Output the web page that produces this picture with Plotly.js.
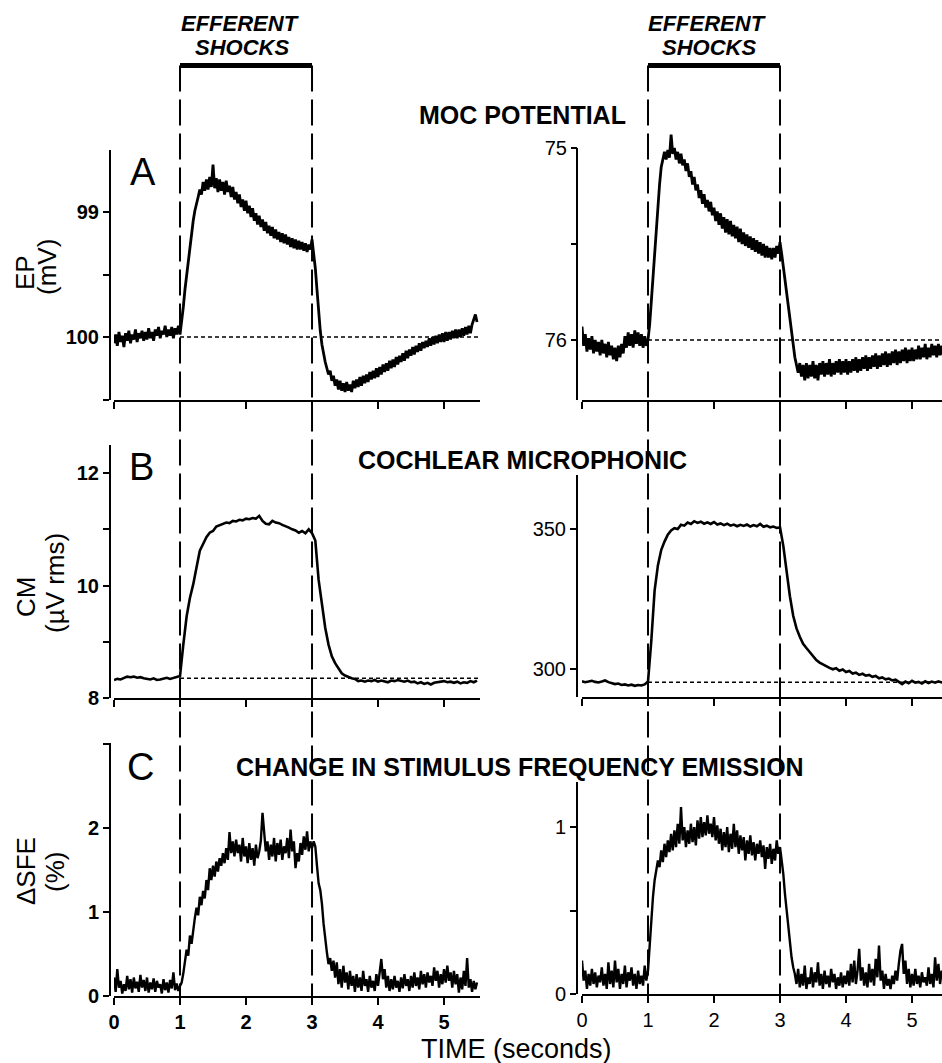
<!DOCTYPE html>
<html>
<head>
<meta charset="utf-8">
<script src="https://cdn.plot.ly/plotly-3.0.1.min.js"></script>
<style>html,body{margin:0;padding:0;background:#fff;}#chart{width:942px;height:1063px;}</style>
</head>
<body>
<div id="chart"></div>
<script>
// ---- sampling of the traces (seconds) ----
const T0 = 0;
const DT_FINE = 0.025;   // EP and SFE records
const DT_CM = 0.05;      // CM records

// ---- stimulus window (seconds) ----
const shockStart = 1;
const shockEnd = 3;

// ---- A: endocochlear potential (mV), one value every 0.025 s ----
const epLeft = [
  100.05, 99.98, 100.07, 99.96, 100.04, 99.99, 100.08, 99.97, 100.03, 99.95,
  100.05, 99.98, 100.02, 99.94, 100.04, 99.97, 100.01, 99.95, 100.03, 99.96,
  100.02, 99.93, 100.01, 99.96, 100.03, 99.94, 99.99, 99.92, 100.01, 99.95,
  99.98, 99.91, 100.00, 99.94, 99.99, 99.92, 100.01, 99.93, 99.98, 99.91,
  99.98, 99.88, 99.76, 99.62, 99.50, 99.38, 99.27, 99.17, 99.07, 98.99,
  98.92, 98.88, 98.82, 98.86, 98.76, 98.83, 98.74, 98.82, 98.72, 98.80,
  98.62, 98.81, 98.73, 98.84, 98.74, 98.83, 98.76, 98.86, 98.75, 98.84,
  98.79, 98.88, 98.80, 98.90, 98.84, 98.93, 98.86, 98.96, 98.90, 98.99,
  98.91, 99.01, 98.95, 99.04, 98.97, 99.07, 99.01, 99.10, 99.03, 99.12,
  99.06, 99.15, 99.08, 99.17, 99.11, 99.19, 99.12, 99.21, 99.14, 99.22,
  99.16, 99.24, 99.17, 99.25, 99.18, 99.26, 99.20, 99.28, 99.21, 99.29,
  99.22, 99.30, 99.23, 99.30, 99.24, 99.31, 99.25, 99.32, 99.26, 99.30,
  99.22, 99.32, 99.45, 99.62, 99.80, 99.95, 100.06, 100.14, 100.20, 100.25,
  100.30, 100.27, 100.35, 100.31, 100.39, 100.34, 100.42, 100.35, 100.43, 100.37,
  100.44, 100.36, 100.43, 100.38, 100.44, 100.35, 100.41, 100.34, 100.40, 100.32,
  100.39, 100.31, 100.37, 100.30, 100.36, 100.28, 100.34, 100.27, 100.33, 100.25,
  100.32, 100.24, 100.30, 100.22, 100.28, 100.21, 100.27, 100.19, 100.25, 100.18,
  100.24, 100.16, 100.22, 100.15, 100.20, 100.13, 100.19, 100.11, 100.17, 100.10,
  100.15, 100.08, 100.14, 100.07, 100.12, 100.05, 100.11, 100.04, 100.09, 100.03,
  100.08, 100.01, 100.07, 100.00, 100.06, 99.99, 100.05, 99.98, 100.04, 99.97,
  100.04, 99.96, 100.03, 99.96, 100.02, 99.95, 100.01, 99.94, 100.01, 99.94,
  100.00, 99.93, 99.99, 99.92, 99.98, 99.91, 99.97, 99.90, 99.86, 99.82, 99.88
];
const epRight = [
  75.93, 76.03, 75.97, 76.06, 75.99, 76.05, 75.98, 76.07, 76.00, 76.06,
  76.01, 76.08, 76.00, 76.07, 76.02, 76.09, 76.01, 76.08, 76.03, 76.10,
  76.04, 76.11, 76.03, 76.09, 76.02, 76.07, 75.98, 76.04, 75.96, 76.03,
  75.97, 76.04, 75.95, 76.02, 75.96, 76.03, 75.97, 76.04, 75.98, 76.03,
  76.00, 75.92, 75.80, 75.67, 75.55, 75.42, 75.30, 75.19, 75.10, 75.05,
  75.02, 75.06, 75.01, 75.05, 74.93, 75.03, 75.00, 75.06, 75.02, 75.08,
  75.03, 75.09, 75.06, 75.12, 75.08, 75.15, 75.12, 75.19, 75.15, 75.22,
  75.19, 75.26, 75.22, 75.29, 75.24, 75.31, 75.27, 75.33, 75.28, 75.35,
  75.31, 75.38, 75.33, 75.40, 75.34, 75.42, 75.36, 75.44, 75.37, 75.45,
  75.38, 75.46, 75.40, 75.47, 75.41, 75.49, 75.42, 75.50, 75.44, 75.51,
  75.45, 75.52, 75.46, 75.53, 75.47, 75.54, 75.48, 75.55, 75.49, 75.56,
  75.50, 75.57, 75.51, 75.57, 75.52, 75.58, 75.52, 75.57, 75.51, 75.55,
  75.49, 75.55, 75.62, 75.69, 75.76, 75.83, 75.90, 75.97, 76.03, 76.09,
  76.13, 76.17, 76.12, 76.19, 76.13, 76.21, 76.12, 76.20, 76.13, 76.19,
  76.11, 76.20, 76.13, 76.21, 76.12, 76.18, 76.11, 76.19, 76.12, 76.18,
  76.10, 76.19, 76.12, 76.18, 76.11, 76.17, 76.10, 76.18, 76.11, 76.17,
  76.10, 76.18, 76.11, 76.17, 76.10, 76.16, 76.09, 76.17, 76.10, 76.16,
  76.09, 76.15, 76.08, 76.16, 76.09, 76.15, 76.08, 76.14, 76.07, 76.15,
  76.08, 76.14, 76.07, 76.13, 76.06, 76.14, 76.07, 76.13, 76.06, 76.12,
  76.05, 76.13, 76.06, 76.12, 76.05, 76.11, 76.04, 76.12, 76.05, 76.11,
  76.04, 76.11, 76.05, 76.10, 76.03, 76.10, 76.04, 76.09, 76.02, 76.10,
  76.04, 76.09, 76.02, 76.08, 76.03, 76.09, 76.02, 76.08, 76.03, 76.08, 76.04
];

// ---- B: cochlear microphonic (µV rms), one value every 0.05 s ----
const cmLeft = [
  8.32, 8.34, 8.33, 8.36, 8.38, 8.37, 8.38, 8.36, 8.37, 8.35,
  8.34, 8.33, 8.35, 8.32, 8.33, 8.34, 8.36, 8.34, 8.36, 8.37,
  8.39, 8.95, 9.45, 9.78, 10.02, 10.32, 10.62, 10.74, 10.86, 10.94,
  10.97, 11.05, 11.07, 11.10, 11.12, 11.11, 11.15, 11.14, 11.17, 11.16,
  11.19, 11.18, 11.20, 11.19, 11.24, 11.15, 11.10, 11.09, 11.15, 11.12,
  11.11, 11.08, 11.06, 11.03, 11.00, 10.98, 10.94, 10.97, 10.93, 11.00,
  10.93, 10.80, 10.10, 9.65, 9.25, 8.95, 8.74, 8.62, 8.52, 8.44,
  8.40, 8.37, 8.35, 8.34, 8.30, 8.31, 8.29, 8.31, 8.30, 8.32,
  8.29, 8.31, 8.30, 8.28, 8.31, 8.30, 8.32, 8.30, 8.29, 8.31,
  8.28, 8.29, 8.26, 8.28, 8.25, 8.27, 8.24, 8.27, 8.28, 8.29,
  8.30, 8.28, 8.29, 8.27, 8.29, 8.26, 8.28, 8.27, 8.30, 8.28, 8.31
];
const cmRight = [
  295.6, 295.3, 295.5, 295.8, 295.4, 295.2, 295.5, 295.9, 295.3, 294.9,
  294.6, 294.8, 294.3, 294.5, 294.1, 294.4, 294.0, 294.3, 294.1, 294.5,
  295.5, 310.0, 328.0, 337.0, 342.5, 345.5, 348.0, 349.5, 350.3, 350.0,
  351.5, 351.2, 352.3, 351.8, 352.8, 352.2, 352.6, 351.9, 352.4, 351.8,
  352.5, 351.6, 352.0, 351.4, 351.9, 351.2, 351.6, 351.0, 351.5, 351.1,
  351.6, 350.9, 351.4, 351.0, 351.8, 350.8, 351.2, 350.6, 350.9, 350.4,
  350.6, 344.0, 334.0, 326.0, 319.0, 314.5, 311.5, 309.0, 307.5, 306.0,
  304.5, 303.2, 302.3, 301.6, 300.8, 300.4, 299.9, 300.3, 299.4, 299.8,
  298.9, 299.3, 298.4, 298.7, 297.9, 298.3, 297.6, 297.9, 297.2, 297.5,
  296.7, 297.0, 296.3, 296.6, 295.9, 296.2, 295.4, 294.6, 295.5, 294.9,
  295.8, 295.1, 295.4, 294.8, 295.6, 295.0, 295.5, 295.1, 295.6, 295.2, 295.5
];

// ---- C: change in stimulus frequency emission (%), one value every 0.025 s ----
const sfeLeft = [
  0.22, 0.05, 0.32, 0.10, 0.18, 0.03, 0.14, 0.06, 0.24, 0.08,
  0.20, 0.04, 0.22, 0.09, 0.17, 0.05, 0.25, 0.10, 0.19, 0.06,
  0.22, 0.04, 0.16, 0.08, 0.21, 0.05, 0.18, 0.10, 0.14, 0.03,
  0.20, 0.07, 0.16, 0.04, 0.19, 0.09, 0.28, 0.07, 0.15, 0.06,
  0.12, 0.16, 0.27, 0.42, 0.55, 0.48, 0.72, 0.62, 0.80, 0.93,
  1.05, 0.96, 1.18, 1.08, 1.25, 1.16, 1.38, 1.26, 1.52, 1.38,
  1.55, 1.42, 1.60, 1.48, 1.64, 1.55, 1.70, 1.58, 1.76, 1.62,
  1.95, 1.70, 1.84, 1.66, 1.86, 1.70, 1.80, 1.60, 1.88, 1.66,
  1.78, 1.58, 1.82, 1.62, 1.76, 1.55, 1.80, 1.64, 1.72, 1.85,
  2.18, 1.90, 1.72, 1.84, 1.62, 1.80, 1.66, 1.88, 1.60, 1.82,
  1.68, 1.86, 1.62, 1.78, 1.70, 1.88, 1.64, 1.98, 1.72, 1.84,
  1.52, 1.70, 1.60, 1.82, 1.68, 1.90, 1.74, 1.96, 1.72, 1.84,
  1.76, 1.84, 1.78, 1.55, 1.34, 1.26, 1.10, 0.86, 0.66, 0.52,
  0.38, 0.45, 0.30, 0.42, 0.22, 0.40, 0.14, 0.32, 0.10, 0.36,
  0.16, 0.28, 0.08, 0.30, 0.12, 0.24, 0.05, 0.26, 0.10, 0.22,
  0.06, 0.30, 0.12, 0.20, 0.05, 0.24, 0.10, 0.18, 0.06, 0.26,
  0.12, 0.30, 0.44, 0.20, 0.32, 0.10, 0.24, 0.06, 0.20, 0.08,
  0.24, 0.10, 0.18, 0.05, 0.22, 0.09, 0.26, 0.12, 0.20, 0.06,
  0.24, 0.10, 0.28, 0.12, 0.22, 0.08, 0.30, 0.14, 0.26, 0.10,
  0.28, 0.16, 0.24, 0.12, 0.34, 0.18, 0.30, 0.10, 0.26, 0.14,
  0.32, 0.16, 0.36, 0.18, 0.28, 0.10, 0.30, 0.14, 0.26, 0.04,
  0.22, 0.08, 0.30, 0.12, 0.45, 0.10, 0.20, 0.05, 0.18, 0.08, 0.16
];
const sfeRight = [
  0.20, 0.08, 0.14, 0.03, 0.12, 0.05, 0.15, 0.06, 0.13, 0.04,
  0.11, 0.07, 0.16, 0.05, 0.12, 0.03, 0.19, 0.06, 0.14, 0.04,
  0.20, 0.07, 0.15, 0.03, 0.12, 0.06, 0.17, 0.04, 0.13, 0.08,
  0.16, 0.05, 0.12, 0.03, 0.14, 0.06, 0.11, 0.05, 0.17, 0.08,
  0.14, 0.30, 0.45, 0.58, 0.68, 0.74, 0.80, 0.76, 0.86, 0.79,
  0.90, 0.82, 0.92, 0.85, 0.96, 0.86, 0.98, 0.88, 1.02, 0.90,
  1.12, 0.92, 1.00, 0.88, 0.98, 0.90, 1.02, 0.91, 1.00, 0.89,
  1.04, 0.93, 1.06, 0.94, 1.03, 0.95, 1.07, 0.96, 1.02, 0.94,
  1.06, 0.92, 1.01, 0.90, 0.99, 0.86, 0.97, 0.88, 1.00, 0.85,
  0.96, 0.87, 1.02, 0.88, 0.98, 0.84, 0.95, 0.86, 0.94, 0.80,
  0.92, 0.84, 0.95, 0.83, 0.91, 0.80, 0.90, 0.84, 0.92, 0.82,
  0.89, 0.75, 0.88, 0.81, 0.90, 0.78, 0.87, 0.80, 0.92, 0.84,
  0.88, 0.80, 0.72, 0.60, 0.50, 0.38, 0.30, 0.22, 0.16, 0.12,
  0.06, 0.15, 0.04, 0.12, 0.05, 0.17, 0.03, 0.10, 0.06, 0.16,
  0.04, 0.13, 0.07, 0.19, 0.05, 0.12, 0.03, 0.14, 0.06, 0.11,
  0.04, 0.15, 0.07, 0.12, 0.03, 0.10, 0.05, 0.13, 0.04, 0.11,
  0.06, 0.14, 0.05, 0.18, 0.07, 0.20, 0.06, 0.14, 0.27, 0.08,
  0.16, 0.05, 0.13, 0.04, 0.18, 0.07, 0.15, 0.05, 0.21, 0.10,
  0.29, 0.08, 0.14, 0.03, 0.12, 0.05, 0.09, 0.03, 0.11, 0.06,
  0.14, 0.08, 0.18, 0.26, 0.30, 0.12, 0.20, 0.06, 0.15, 0.04,
  0.12, 0.05, 0.15, 0.06, 0.11, 0.04, 0.13, 0.07, 0.10, 0.05,
  0.16, 0.06, 0.12, 0.04, 0.22, 0.08, 0.18, 0.06, 0.14, 0.09, 0.12
];

// ---- pre-stimulus reference levels (dotted lines) ----
const baseX = [1, 5.6];
const baseEpLeft = 100;
const baseEpRight = 76;
const baseCmLeft = 8.35;
const baseCmRight = 295.25;

// ---- tick labels ----
const xTickVals = [0, 1, 2, 3, 4, 5];
const xTickText = ['0', '1', '2', '3', '4', '5'];
const epLeftTicks = [98.5, 99, 99.5, 100, 100.5];
const epLeftText = ['', '99', '', '100', ''];
const epRightTicks = [75, 75.5, 76];
const epRightText = ['75', '', '76'];
const cmLeftTicks = [8, 9, 10, 11, 12];
const cmLeftText = ['8', '', '10', '', '12'];
const cmRightTicks = [300, 350];
const cmRightText = ['300', '350'];
const sfeLeftTicks = [0, 1, 2, 3];
const sfeLeftText = ['0', '1', '2', ''];
const sfeRightTicks = [0, 0.5, 1];
const sfeRightText = ['0', '', '1'];

// ================= drawing =================
const W = 942, H = 1063;
const px = v => v / W;
const py = v => 1 - v / H;
const FONT = 'Liberation Sans, Arial, Helvetica, sans-serif';

function trace(y, dt, xa, ya, w) {
  return {type: 'scatter', mode: 'lines', x0: T0, dx: dt, y: y, xaxis: xa, yaxis: ya,
          line: {color: '#000', width: w}, hoverinfo: 'skip', showlegend: false};
}
function baseline(v, xa, ya) {
  return {type: 'scatter', mode: 'lines', x: baseX, y: [v, v], xaxis: xa, yaxis: ya,
          line: {color: '#000', width: 1.5, dash: '4px,3px'}, hoverinfo: 'skip', showlegend: false};
}

const data = [
  baseline(baseEpLeft, 'x', 'y'),
  baseline(baseEpRight, 'x2', 'y2'),
  baseline(baseCmLeft, 'x3', 'y3'),
  baseline(baseCmRight, 'x4', 'y4'),
  trace(epLeft, DT_FINE, 'x', 'y', 2.8),
  trace(epRight, DT_FINE, 'x2', 'y2', 2.8),
  trace(cmLeft, DT_CM, 'x3', 'y3', 2.6),
  trace(cmRight, DT_CM, 'x4', 'y4', 2.6),
  trace(sfeLeft, DT_FINE, 'x5', 'y5', 2.4),
  trace(sfeRight, DT_FINE, 'x6', 'y6', 2.4)
];

function xAxis(left, anchor, showLabels, bold) {
  return {
    domain: left ? [px(114), px(480)] : [px(582), 1],
    range: left ? [0, 5.545] : [0, 5.4545],
    anchor: anchor, showline: true, linewidth: 2, linecolor: '#000',
    ticks: 'outside', ticklen: 7, tickwidth: 2, tickcolor: '#000',
    tickvals: xTickVals, ticktext: xTickText, showticklabels: showLabels,
    tickfont: {family: FONT, size: 20, color: '#000', weight: bold ? 'bold' : 'normal'},
    showgrid: false, zeroline: false, fixedrange: true
  };
}
function yAxis(left, dom, range, vals, text, bold, showline) {
  return {
    domain: [py(dom[0]), py(dom[1])], range: range, autorange: false,
    anchor: 'free', position: left ? px(110) : px(577),
    showline: showline !== false, linewidth: 2, linecolor: '#000',
    ticks: 'outside', ticklen: 6, tickwidth: 2, tickcolor: '#000',
    tickvals: vals, ticktext: text,
    tickfont: {family: FONT, size: 20, color: '#000', weight: bold ? 'bold' : 'normal'},
    showgrid: false, zeroline: false, fixedrange: true
  };
}

function ann(text, x, y, size, extra) {
  return Object.assign({text: text, x: px(x), y: py(y), xref: 'paper', yref: 'paper',
    xanchor: 'center', yanchor: 'middle', showarrow: false, borderpad: 0,
    font: {family: FONT, size: size, color: '#000'}}, extra || {});
}

const annotations = [
  ann('<b><i>EFFERENT</i></b>', 240, 23, 22),
  ann('<b><i>SHOCKS</i></b>', 242, 47.5, 22),
  ann('<b><i>EFFERENT</i></b>', 707, 23, 22),
  ann('<b><i>SHOCKS</i></b>', 709, 47.5, 22),
  ann('<b>MOC POTENTIAL</b>', 522, 115, 25),
  ann('<b>COCHLEAR MICROPHONIC</b>', 522, 460, 25),
  ann('<b>CHANGE IN STIMULUS FREQUENCY EMISSION</b>', 520, 767, 25),
  ann('A', 143, 172, 38),
  ann('B', 141, 467, 38),
  ann('C', 140, 767, 38),
  ann('EP', 25, 273, 26, {textangle: -90}),
  ann('(mV)', 47, 267, 26, {textangle: -90}),
  ann('CM', 26, 597, 26, {textangle: -90}),
  ann('(\u00B5V rms)', 55, 583, 26, {textangle: -90}),
  ann('\u0394SFE', 26, 871, 26, {textangle: -90}),
  ann('(%)', 55, 872, 26, {textangle: -90}),
  ann('TIME (seconds)', 516, 1049, 27)
];

const shapes = [];
const topY = py(65.5);
const botL = py(996);
const botR = py(994);
[['x', botL], ['x2', botR]].forEach(([xr, bot]) => {
  shapes.push({type: 'line', xref: xr, yref: 'paper', x0: shockStart, x1: shockEnd, y0: topY, y1: topY,
               line: {color: '#000', width: 5}});
  [shockStart, shockEnd].forEach(t => {
    shapes.push({type: 'line', xref: xr, yref: 'paper', x0: t, x1: t, y0: topY, y1: bot,
                 line: {color: '#000', width: 2, dash: '26px,8px'}});
  });
});
// axis line of the upper-right panel (its plotting area reaches a little above 75 mV)
const epRightTop = 75;
const epRightBottom = 76.3125;
shapes.push({type: 'line', xref: 'paper', yref: 'y2', x0: px(577), x1: px(577),
             y0: epRightTop, y1: epRightBottom, line: {color: '#000', width: 2}});

const layout = {
  width: W, height: H, margin: {l: 0, r: 0, t: 0, b: 0},
  paper_bgcolor: '#fff', plot_bgcolor: 'rgba(0,0,0,0)',
  showlegend: false,
  xaxis: xAxis(true, 'y', false, true),
  xaxis2: xAxis(false, 'y2', false, false),
  xaxis3: xAxis(true, 'y3', false, true),
  xaxis4: xAxis(false, 'y4', false, false),
  xaxis5: xAxis(true, 'y5', true, true),
  xaxis6: xAxis(false, 'y6', true, false),
  yaxis: yAxis(true, [400, 150], [100.504, 98.504], epLeftTicks, epLeftText, true),
  yaxis2: yAxis(false, [400, 130], [76.3125, 74.906], epRightTicks, epRightText, false, false),
  yaxis3: yAxis(true, [698, 445], [8, 12.5], cmLeftTicks, cmLeftText, true),
  yaxis4: yAxis(false, [697, 475], [290, 369.3], cmRightTicks, cmRightText, false),
  yaxis5: yAxis(true, [996, 743], [0, 3.01], sfeLeftTicks, sfeLeftText, true),
  yaxis6: yAxis(false, [994, 782], [0, 1.27], sfeRightTicks, sfeRightText, false),
  annotations: annotations,
  shapes: shapes
};

Plotly.newPlot('chart', data, layout, {staticPlot: true, displayModeBar: false});
</script>
</body>
</html>
